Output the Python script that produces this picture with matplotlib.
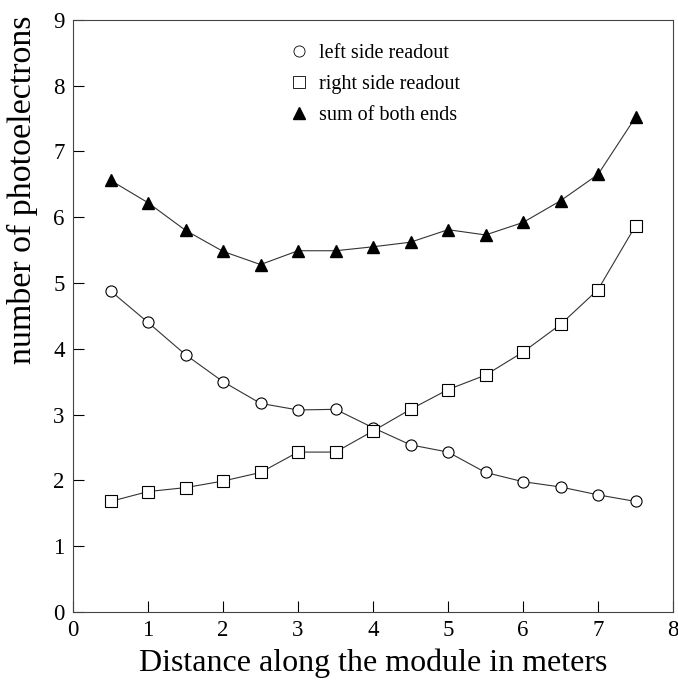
import numpy as np
import matplotlib
matplotlib.use('Agg')
import matplotlib.pyplot as plt

plt.rcParams['font.family'] = ['Liberation Serif', 'DejaVu Serif']

distance = [0.5, 1.0, 1.5, 2.0, 2.5, 3.0, 3.5, 4.0, 4.5, 5.0, 5.5, 6.0, 6.5, 7.0, 7.5]
left_side = [4.88, 4.40, 3.91, 3.50, 3.17, 3.07, 3.08, 2.80, 2.54, 2.43, 2.12, 1.98, 1.90, 1.78, 1.68]
right_side = [1.68, 1.83, 1.89, 1.99, 2.12, 2.43, 2.43, 2.75, 3.08, 3.38, 3.60, 3.95, 4.37, 4.90, 5.87]
sum_both = [6.56, 6.22, 5.80, 5.48, 5.28, 5.49, 5.49, 5.55, 5.62, 5.81, 5.73, 5.92, 6.25, 6.65, 7.52]

fig = plt.figure(figsize=(6.78, 6.87), dpi=100)
ax = fig.add_axes([0.1077, 0.1092, 0.885, 0.862])

line_kw = dict(color='#333333', lw=0.8)
ax.plot(distance, left_side, marker='o', ms=8, mfc='white', mec='black', mew=0.8,
        label='left side readout', **line_kw)
ax.plot(distance, right_side, marker='s', ms=8, mfc='white', mec='black', mew=0.8,
        label='right side readout', **line_kw)
ax.plot(distance, sum_both, marker='^', ms=8.5, mfc='black', mec='black',
        label='sum of both ends', **line_kw)

ax.set_xlim(0, 8); ax.set_ylim(0, 9)
ax.set_xticks(range(0, 9)); ax.set_yticks(range(0, 10))
ax.tick_params(direction='in', length=8, width=0.8, labelsize=16.5, top=False, right=False, pad=6)
for s in ax.spines.values():
    s.set_linewidth(0.8); s.set_color('#444444')

ax.set_xlabel('Distance along the module in meters', fontsize=23, labelpad=5)
ax.set_ylabel('number of photoelectrons', fontsize=24.5)
ax.yaxis.set_label_coords(-0.058, 0.713)

# legend: markers only, no lines
handles = [plt.Line2D([], [], ls='none', marker='o', ms=8, mfc='white', mec='black', mew=0.6),
           plt.Line2D([], [], ls='none', marker='s', ms=8, mfc='white', mec='black', mew=0.6),
           plt.Line2D([], [], ls='none', marker='^', ms=8, mfc='black', mec='black')]
labels = ['left side readout', 'right side readout', 'sum of both ends']
ax.legend(handles, labels, loc='upper left', bbox_to_anchor=(0.33, 0.99), frameon=False,
          fontsize=14.5, handlelength=1.0, handletextpad=0.5, labelspacing=0.6)

fig.savefig('out.png', dpi=100)
